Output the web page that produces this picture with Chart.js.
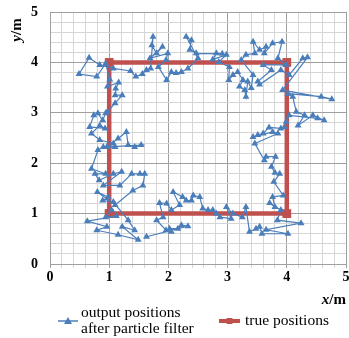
<!DOCTYPE html>
<html>
<head>
<meta charset="utf-8">
<script src="https://cdn.jsdelivr.net/npm/chart.js@4.4.1/dist/chart.umd.min.js"></script>
<style>
  body { margin: 0; background: #fff; }
  canvas { display: block; }
</style>
</head>
<body>
<canvas id="chart" width="349" height="338"></canvas>
<script>
// estimated positions (metres)
var filterX = [1.04,0.94,1.12,0.63,0.96,0.79,1.15,1.49,1.22,1.43,1.32,1.07,0.89,0.98,0.80,1.10,1.40,1.57,1.60,1.52,1.38,1.18,0.90,1.21,1.07,0.83,0.76,0.94,0.70,0.81,0.90,1.54,1.43,1.32,1.29,1.15,0.96,1.10,1.07,0.84,0.70,0.84,0.93,0.67,0.74,0.81,0.89,0.94,0.97,1.10,1.22,1.10,1.11,1.16,0.97,1.01,
  0.94,0.79,0.49,0.66,0.84,1.07,1.36,1.45,1.56,1.63,1.70,1.74,1.72,1.80,1.90,1.69,1.99,1.96,1.83,1.97,2.05,2.13,2.22,2.33,2.50,2.30,2.39,2.36,2.47,2.91,2.81,2.75,2.98,2.85,3.03,3.02,3.09,3.17,3.26,3.20,3.29,3.31,3.34,3.40,3.43,3.23,3.31,3.46,3.43,3.54,3.65,3.62,3.76,3.92,3.85,3.99,3.60,3.74,3.51,3.54,3.90,4.04,4.27,4.35,3.93,4.76,4.58,4.02,4.10,4.16,4.30,4.19,4.44,4.63,4.52,4.04,3.99,
  3.96,3.90,3.70,3.60,3.51,3.43,3.76,3.85,3.46,3.62,3.65,3.81,3.74,3.80,3.88,3.78,3.94,3.76,3.80,3.71,3.90,3.84,4.24,3.65,4.02,3.58,3.54,3.48,3.37,3.31,3.25,
  3.09,2.98,3.06,2.87,2.81,2.75,2.67,2.58,2.53,2.42,2.39,2.30,2.24,2.08,2.19,2.05,1.97,1.85,1.91,1.80,1.96,2.05,2.02,2.16,2.22,2.33,1.63];
var filterY = [1.07,0.93,0.95,0.85,0.74,0.67,0.58,0.48,0.74,0.67,0.87,1.23,1.26,1.33,1.43,1.17,1.46,1.56,1.79,1.79,1.79,1.56,1.56,1.83,1.79,1.66,1.79,1.79,1.89,2.26,2.32,2.36,2.32,2.36,2.62,2.49,2.32,2.32,2.39,2.46,2.59,2.75,2.69,2.72,2.95,2.99,2.85,2.99,3.02,3.19,3.35,3.35,3.48,3.60,3.52,3.66,
  3.98,3.72,3.77,4.09,3.95,3.88,3.83,3.72,3.77,3.85,3.88,4.51,4.34,4.18,4.31,4.08,4.18,4.05,3.91,3.65,3.81,3.79,3.81,3.88,4.08,4.51,4.44,4.25,4.18,4.17,4.18,4.06,4.15,4.01,3.91,3.65,3.75,3.81,3.65,3.52,3.45,3.32,3.62,3.49,3.75,4.05,4.15,4.18,4.41,4.25,4.31,4.18,4.38,4.41,4.08,3.95,3.95,3.85,3.62,3.56,3.85,3.75,4.08,4.10,3.45,3.27,3.32,3.38,3.32,3.02,2.95,2.75,2.95,2.85,2.89,2.95,2.82,
  2.72,2.69,2.71,2.59,2.56,2.52,2.62,2.59,2.39,2.06,2.13,2.13,1.93,1.81,1.79,1.63,1.36,1.33,1.13,1.21,1.07,0.87,0.81,0.68,0.60,0.60,0.74,0.70,0.64,1.13,0.93,
  1.00,1.13,0.90,0.93,1.00,1.07,1.07,1.10,1.33,1.36,1.26,1.26,1.33,1.43,1.17,1.07,1.20,1.21,0.93,0.87,0.67,0.64,0.70,0.70,0.77,0.75,0.54];

var trueX = [1, 1, 4, 4, 1];
var trueY = [1, 4, 4, 1, 1];

var axisMin = 0, axisMax = 5, gridStep = 0.2;
var filterLabel = ["output positions", "after particle filter"];
var trueLabel = "true positions";

var blue = "#4a7ebb";
var red = "#c0504d";
var serif = "'Liberation Serif', 'Times New Roman', serif";

function toPoints(xs, ys) {
  return xs.map(function (x, i) { return { x: x, y: ys[i] }; });
}

function isWhole(v) {
  return Math.abs(v - Math.round(v)) < 1e-6;
}

// titles and the legend are drawn by hand (mixed italic, two-line label)
var extrasPlugin = {
  id: "extras",
  afterDraw: function (chart) {
    var ctx = chart.ctx;
    ctx.save();
    ctx.fillStyle = "#000";
    ctx.textBaseline = "middle";

    // x/m
    ctx.textAlign = "left";
    ctx.font = "bold 15px " + serif;
    var mW = ctx.measureText("/m").width;
    ctx.font = "italic bold 15px " + serif;
    var xW = ctx.measureText("x").width;
    var xr = 346;
    ctx.fillText("x", xr - mW - xW, 300);
    ctx.font = "bold 15px " + serif;
    ctx.fillText("/m", xr - mW, 300);

    // y/m rotated
    ctx.save();
    ctx.translate(17, 30);
    ctx.rotate(-Math.PI / 2);
    ctx.font = "italic bold 15px " + serif;
    var yW = ctx.measureText("y").width;
    ctx.font = "bold 15px " + serif;
    var tot = yW + ctx.measureText("/m").width;
    ctx.font = "italic bold 15px " + serif;
    ctx.fillText("y", -tot / 2, 0);
    ctx.font = "bold 15px " + serif;
    ctx.fillText("/m", -tot / 2 + yW, 0);
    ctx.restore();

    // legend
    var ly = 321;
    ctx.lineWidth = 1.5;
    ctx.strokeStyle = blue;
    ctx.beginPath();
    ctx.moveTo(58, ly);
    ctx.lineTo(78, ly);
    ctx.stroke();
    ctx.fillStyle = blue;
    ctx.beginPath();
    ctx.moveTo(68, ly - 4);
    ctx.lineTo(72, ly + 3);
    ctx.lineTo(64, ly + 3);
    ctx.closePath();
    ctx.fill();

    ctx.strokeStyle = red;
    ctx.lineWidth = 4;
    ctx.beginPath();
    ctx.moveTo(219, ly);
    ctx.lineTo(240, ly);
    ctx.stroke();
    ctx.fillStyle = red;
    ctx.fillRect(226.5, ly - 3, 6, 6);

    ctx.fillStyle = "#000";
    ctx.font = "15.5px " + serif;
    ctx.fillText(filterLabel[0], 81, 313);
    ctx.fillText(filterLabel[1], 81, 329);
    ctx.fillText(trueLabel, 245, ly);
    ctx.restore();
  }
};

var tickFont = { family: serif, weight: "bold", size: 14 };

function gridColor(c) {
  return isWhole(c.tick.value) ? "#a0a0a0" : "#d6d6d6";
}

function tickText(v) {
  return isWhole(v) ? String(Math.round(v)) : "";
}

new Chart(document.getElementById("chart"), {
  type: "scatter",
  data: {
    datasets: [
      {
        label: filterLabel.join(" "),
        data: toPoints(filterX, filterY),
        showLine: true,
        borderColor: blue,
        backgroundColor: blue,
        borderWidth: 1.2,
        pointStyle: "triangle",
        pointRadius: 4,
        pointBorderWidth: 0,
        tension: 0
      },
      {
        label: trueLabel,
        data: toPoints(trueX, trueY),
        showLine: true,
        borderColor: red,
        backgroundColor: red,
        borderWidth: 4.5,
        pointStyle: "rect",
        pointRadius: 3,
        tension: 0
      }
    ]
  },
  options: {
    responsive: false,
    animation: false,
    devicePixelRatio: 1,
    layout: {
      autoPadding: false,
      padding: { top: 12, right: 3, left: 0, bottom: 0 }
    },
    plugins: {
      legend: { display: false },
      tooltip: { enabled: false }
    },
    scales: {
      x: {
        type: "linear",
        min: axisMin,
        max: axisMax,
        ticks: {
          stepSize: gridStep,
          autoSkip: false,
          maxRotation: 0,
          padding: 1,
          color: "#000",
          font: tickFont,
          callback: tickText
        },
        grid: { color: gridColor, tickLength: 4, lineWidth: 1 },
        border: { color: "#a0a0a0" },
        afterFit: function (s) {
          s.height = 74;
          s.paddingLeft = 0;
          s.paddingRight = 0;
        }
      },
      y: {
        type: "linear",
        min: axisMin,
        max: axisMax,
        ticks: {
          stepSize: gridStep,
          autoSkip: false,
          padding: 12,
          color: "#000",
          font: tickFont,
          callback: tickText
        },
        grid: { color: gridColor, drawTicks: false, lineWidth: 1 },
        border: { color: "#a0a0a0" },
        afterFit: function (s) {
          s.width = 50;
          s.paddingTop = 0;
          s.paddingBottom = 0;
        }
      }
    }
  },
  plugins: [extrasPlugin]
});
</script>
</body>
</html>
